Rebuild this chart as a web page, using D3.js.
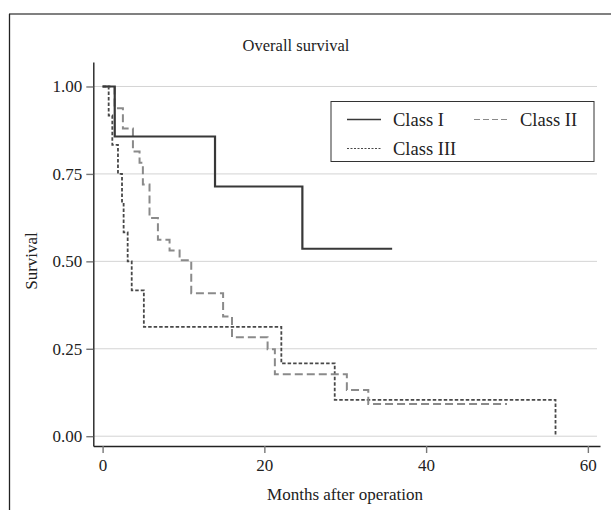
<!DOCTYPE html>
<html>
<head>
<meta charset="utf-8">
<script src="https://cdn.jsdelivr.net/npm/d3@7"></script>
<style>
  body { margin: 0; background: #fff; }
  svg { display: block; font-family: "Liberation Serif", "DejaVu Serif", serif; }
</style>
</head>
<body>
<svg width="611" height="510"></svg>
<script>
// Kaplan-Meier steps (months, survival)
const classITimes = [0, 1.5, 13.9, 24.7, 35.8];
const classISurv = [1, 0.857, 0.714, 0.536, 0.536];

const classIITimes = [0, 1.48, 2.51, 3.75, 4.57, 4.98, 5.8, 6.84, 8.28, 9.52, 10.96, 14.9, 16.0, 20.4, 21.3, 30.2, 32.85, 50.0];
const classIISurv = [1, 0.938, 0.880, 0.814, 0.782, 0.720, 0.624, 0.562, 0.531, 0.503, 0.409, 0.342, 0.283, 0.249, 0.177, 0.132, 0.092, 0.092];

const classIIITimes = [0, 0.75, 1.2, 1.9, 2.4, 2.6, 3.1, 3.6, 5.1, 22.1, 28.7, 56.0];
const classIIISurv = [1, 0.917, 0.833, 0.75, 0.667, 0.583, 0.5, 0.417, 0.3125, 0.208, 0.104, 0];

const xTicks = [0, 20, 40, 60];
const yTicks = [0, 0.25, 0.5, 0.75, 1];
const seriesNames = ["Class I", "Class II", "Class III"];

const svg = d3.select("svg");

// frame of the figure (top and left edges only)
svg.append("line")
    .attr("x1", 9).attr("x2", 611).attr("y1", 14).attr("y2", 14)
    .attr("stroke", "#808080").attr("stroke-width", 2);
svg.append("line")
    .attr("x1", 9.5).attr("x2", 9.5).attr("y1", 14).attr("y2", 510)
    .attr("stroke", "#222").attr("stroke-width", 1.3);

const x = d3.scaleLinear().domain([-1.15, 61.5]).range([93.3, 600]);
const y = d3.scaleLinear().domain([-0.028, 1.07]).range([446, 62]);

// gridlines
svg.append("g")
    .selectAll("line")
    .data(yTicks)
    .enter().append("line")
    .attr("x1", x(-1.15)).attr("x2", 597)
    .attr("y1", d => y(d)).attr("y2", d => y(d))
    .attr("stroke", "#d4d4d4").attr("stroke-width", 1);

// axes
const yAxis = svg.append("g")
    .attr("transform", `translate(${x(-1.15)},0)`)
    .call(d3.axisLeft(y).tickValues(yTicks).tickFormat(d3.format(".2f")).tickSize(7).tickSizeOuter(0).tickPadding(4));
const xAxis = svg.append("g")
    .attr("transform", `translate(0,${y(-0.028)})`)
    .call(d3.axisBottom(x).tickValues(xTicks).tickSize(7).tickSizeOuter(0).tickPadding(6));

[xAxis, yAxis].forEach(a => {
    a.select(".domain").attr("stroke", "#222").attr("stroke-width", 1.4);
    a.selectAll(".tick line").attr("stroke", "#777").attr("stroke-width", 1.4);
    a.selectAll(".tick text")
        .attr("fill", "#222")
        .style("font-family", "Liberation Serif")
        .style("font-size", "17px");
});

// curves
const line = d3.line()
    .x(d => x(d[0]))
    .y(d => y(d[1]))
    .curve(d3.curveStepAfter);

const styles = [
    { color: "#383838", width: 2.2, dash: null },
    { color: "#8a8a8a", width: 2, dash: "8,4" },
    { color: "#484848", width: 1.8, dash: "3.5,2" }
];
const curves = [
    d3.zip(classITimes, classISurv),
    d3.zip(classIITimes, classIISurv),
    d3.zip(classIIITimes, classIIISurv)
];

// draw III and II first, I on top
[2, 1, 0].forEach(i => {
    svg.append("path")
        .datum(curves[i])
        .attr("d", line)
        .attr("fill", "none")
        .attr("stroke", styles[i].color)
        .attr("stroke-width", styles[i].width)
        .attr("stroke-dasharray", styles[i].dash);
});

// title and labels
svg.append("text")
    .attr("x", 296).attr("y", 51)
    .attr("text-anchor", "middle")
    .attr("fill", "#222")
    .style("font-size", "16.5px")
    .text("Overall survival");

svg.append("text")
    .attr("transform", "translate(37,261) rotate(-90)")
    .attr("text-anchor", "middle")
    .attr("fill", "#222")
    .style("font-size", "17px")
    .text("Survival");

svg.append("text")
    .attr("x", 345).attr("y", 500)
    .attr("text-anchor", "middle")
    .attr("fill", "#222")
    .style("font-size", "17px")
    .text("Months after operation");

// legend
const legend = svg.append("g").attr("transform", "translate(331,101.5)");
legend.append("rect")
    .attr("width", 263).attr("height", 60)
    .attr("fill", "#fff").attr("stroke", "#333").attr("stroke-width", 1);

const legendPos = [[16, 18], [143, 18], [16, 47]];
seriesNames.forEach((name, i) => {
    const g = legend.append("g").attr("transform", `translate(${legendPos[i][0]},${legendPos[i][1]})`);
    g.append("line")
        .attr("x1", 0).attr("x2", 34).attr("y1", 0).attr("y2", 0)
        .attr("stroke", styles[i].color)
        .attr("stroke-width", i === 0 ? 1.4 : 1.2)
        .attr("stroke-dasharray", i === 1 ? "6,3" : (i === 2 ? "2,1.5" : null));
    g.append("text")
        .attr("x", 46).attr("y", 6)
        .attr("fill", "#222")
        .style("font-size", "18.5px")
        .text(name);
});
</script>
</body>
</html>
